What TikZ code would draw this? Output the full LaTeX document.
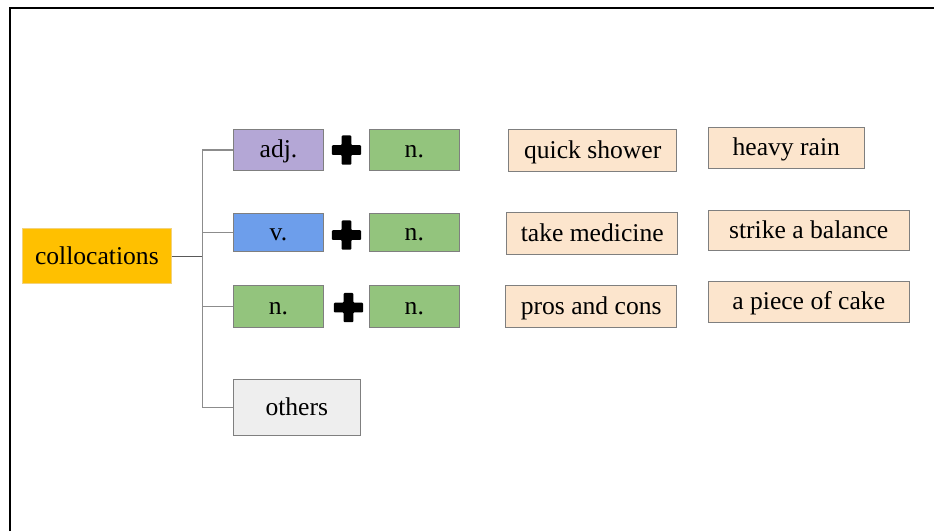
\documentclass[tikz,border=0pt]{standalone}
\usepackage{fontspec}
\setmainfont{Liberation Serif}
\usetikzlibrary{calc}
\definecolor{cgold}{HTML}{FFC000}
\definecolor{cgoldline}{HTML}{F3D27C}
\definecolor{cpurple}{HTML}{B4A7D6}
\definecolor{cgreen}{HTML}{93C47D}
\definecolor{cblue}{HTML}{6D9EEB}
\definecolor{cgrey}{HTML}{EEEEEE}
\definecolor{cpeach}{HTML}{FCE5CD}
\definecolor{cborder}{HTML}{7F7F7F}
\definecolor{ctrunk}{HTML}{8C8C8C}
\definecolor{cdark}{HTML}{595959}
\begin{document}
\begin{tikzpicture}[x=1pt,y=-1pt,
  box/.style={draw=cborder,line width=1pt,inner sep=0pt,
    font=\fontsize{25.6}{30}\selectfont,text height=21pt,text depth=5.1pt},
  peach/.style={box,fill=cpeach},
  conn/.style={draw=ctrunk,line width=1.1pt},
  plusmark/.style={fill=black,rounded corners=1pt}]
\useasboundingbox (0,0) rectangle (934,531);
\draw[line width=1.4pt] (10,531) -- (10,8) -- (934,8);

\node[box,fill=cgold,draw=cgoldline,minimum width=148.3pt,minimum height=55pt] (coll) at (96.85,256.2) {collocations};
\node[box,fill=cpurple,minimum width=90.4pt,minimum height=41.4pt] (adj) at (278.5,150) {adj.};
\node[box,fill=cgreen,minimum width=90pt,minimum height=41.4pt] (n1) at (414.3,150) {n.};
\node[box,fill=cblue,minimum width=90.4pt,minimum height=38.4pt] (v) at (278.5,232.5) {v.};
\node[box,fill=cgreen,minimum width=90pt,minimum height=38.4pt] (n2) at (414.3,232.5) {n.};
\node[box,fill=cgreen,minimum width=90.4pt,minimum height=42.4pt] (n3a) at (278.5,306.5) {n.};
\node[box,fill=cgreen,minimum width=90pt,minimum height=42.4pt] (n3b) at (414.3,306.5) {n.};
\node[box,fill=cgrey,minimum width=127pt,minimum height=55.7pt] (oth) at (296.8,407.2) {others};

\node[peach,minimum width=168pt,minimum height=41.7pt] (qs) at (592.7,150.2) {quick shower};
\node[peach,minimum width=156pt,minimum height=41pt] (hr) at (786.3,147.8) {heavy rain};
\node[peach,minimum width=171pt,minimum height=41.7pt] (tm) at (592.2,233.5) {take medicine};
\node[peach,minimum width=200.7pt,minimum height=40.3pt] (sb) at (808.7,230.2) {strike a balance};
\node[peach,minimum width=171pt,minimum height=41.6pt] (pc) at (591.2,306.5) {pros and cons};
\node[peach,minimum width=200.7pt,minimum height=41.3pt] (apc) at (808.7,301.7) {a piece of cake};

\coordinate (j) at (202.3,256.2);
\draw[conn] (j) |- (adj.west);
\draw[conn] (j) |- (v.west);
\draw[conn] (j) |- (n3a.west);
\draw[conn] (j) |- (oth.west);
\draw[draw=cdark,line width=1.4pt] (coll.east) -- (j);

\foreach \a/\b/\dx/\dy in {adj/n1/0/0,v/n2/0/2.5,n3a/n3b/2/1}{
  \coordinate (p) at ($(\a.east)!0.5!(\b.west)+(\dx,\dy)$);
  \fill[plusmark] ($(p)+(-4.85,-14.65)$) -- ++(9.7,0) -- ++(0,9.8) -- ++(9.8,0) -- ++(0,9.7)
    -- ++(-9.8,0) -- ++(0,9.8) -- ++(-9.7,0) -- ++(0,-9.8) -- ++(-9.8,0) -- ++(0,-9.7)
    -- ++(9.8,0) -- cycle;
}
\end{tikzpicture}
\end{document}
